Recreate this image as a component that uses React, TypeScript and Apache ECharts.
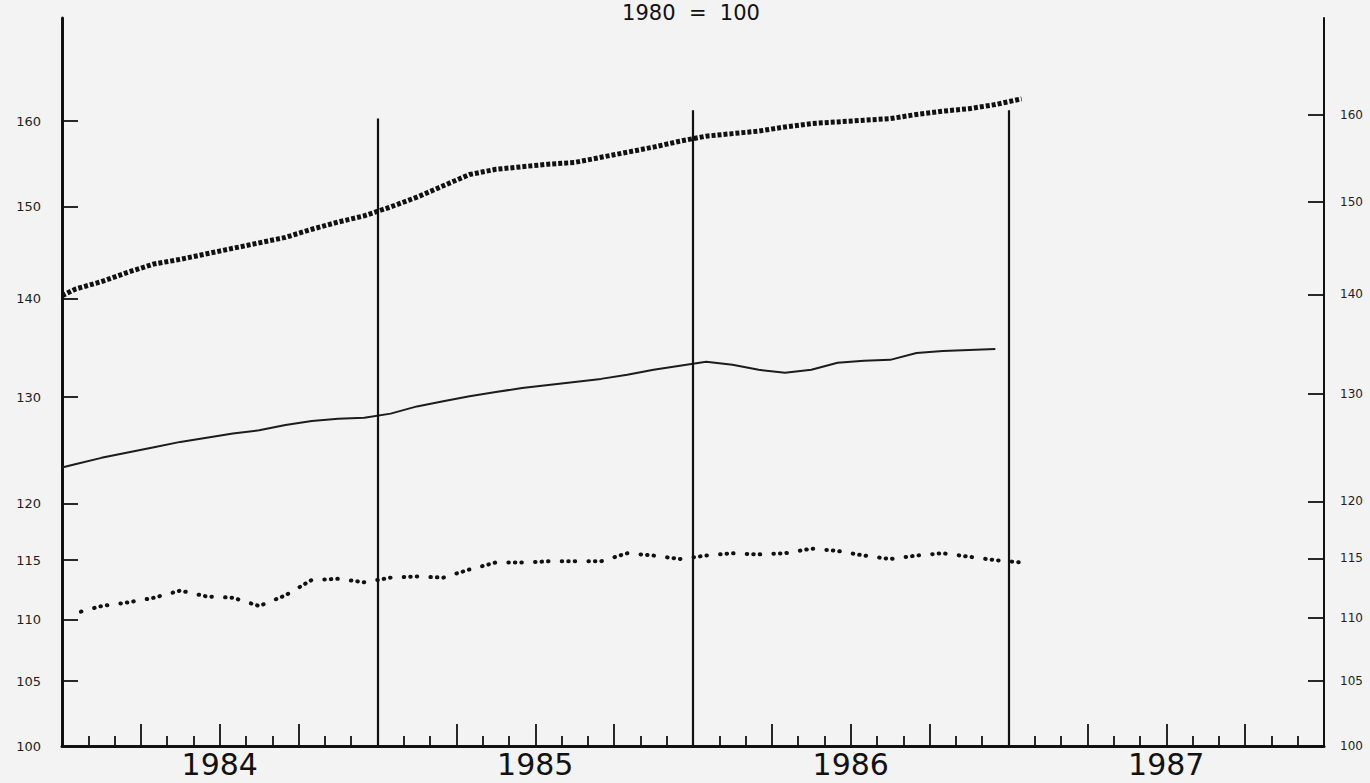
import React, { useEffect, useRef } from 'react';
import * as echarts from 'echarts';

// years on the x axis (x is counted in months from Jan 1984)
const yearLabels = ['1984', '1985', '1986', '1987'];
const yearMiddles = [6, 18, 30, 42];
const yearBoundaries = [12, 24, 36];
const boundaryTops = [160.3, 161.3, 161.3];
const quarterTicks = [3, 6, 9, 15, 18, 21, 27, 30, 33, 39, 42, 45];

// index values, 1980 = 100 (log scale)
const yTicks = [100, 105, 110, 115, 120, 130, 140, 150, 160];

// upper thick dotted line, monthly Jan 1984 - Jan 1987
const upperStart = 140.3;
const upper = [
  141.0, 141.8, 142.8, 143.7, 144.2, 144.8, 145.4, 146.0, 146.6, 147.5, 148.3, 149.0,
  150.0, 151.1, 152.4, 153.7, 154.3, 154.6, 154.9, 155.1, 155.7, 156.3, 156.9, 157.6,
  158.2, 158.5, 158.8, 159.3, 159.7, 159.9, 160.1, 160.3, 160.8, 161.2, 161.5, 162.0,
  162.7,
];

// middle solid line, monthly Jan 1984 - Dec 1986
const middleStart = 123.3;
const middle = [
  123.6, 124.2, 124.7, 125.2, 125.7, 126.1, 126.5, 126.8, 127.3, 127.7, 127.9, 128.0,
  128.4, 129.1, 129.6, 130.1, 130.5, 130.9, 131.2, 131.5, 131.8, 132.2, 132.7, 133.1,
  133.5, 133.2, 132.7, 132.4, 132.7, 133.4, 133.6, 133.7, 134.4, 134.6, 134.7, 134.8,
];

// lower dotted line, monthly Jan 1984 - Jan 1987
const lower = [
  110.5, 111.1, 111.4, 111.8, 112.4, 111.9, 111.8, 111.1, 112.0, 113.3, 113.4, 113.1,
  113.5, 113.6, 113.5, 114.2, 114.8, 114.8, 114.9, 114.9, 114.9, 115.6, 115.4, 115.1,
  115.4, 115.6, 115.5, 115.6, 116.0, 115.8, 115.4, 115.1, 115.4, 115.6, 115.3, 115.0,
  114.8,
];

const font = 'DejaVu Sans';
const ink = '#111';

const App = () => {
  const chartRef = useRef<HTMLDivElement>(null);

  useEffect(() => {
    const chart = echarts.init(chartRef.current, null, { renderer: 'svg' });

    // each monthly value sits in the middle of its month
    const onMonths = (vals: number[]) => vals.map((v, i) => [i + 0.5, v]);

    const yAxisBase = {
      type: 'log',
      logBase: 10,
      min: 100,
      splitLine: { show: false },
      minorTick: { show: false },
    };

    const options = {
      animation: false,
      backgroundColor: '#f3f3f3',
      textStyle: { fontFamily: font },
      grid: { left: 62, right: 46, top: 18, bottom: 37 },
      graphic: [
        {
          type: 'text',
          x: 691,
          y: 2,
          style: {
            text: '1980  =  100',
            fontSize: 21,
            fontFamily: font,
            fill: ink,
            textAlign: 'center',
            textVerticalAlign: 'top',
          },
        },
      ],
      xAxis: {
        type: 'value',
        min: 0,
        max: 48,
        interval: 3,
        splitLine: { show: false },
        axisLine: { lineStyle: { color: ink, width: 3 } },
        axisTick: {
          inside: true,
          length: 22,
          customValues: quarterTicks,
          lineStyle: { color: ink, width: 1.8 },
        },
        minorTick: {
          show: true,
          splitNumber: 3,
          length: 10,
          lineStyle: { color: ink, width: 1.8 },
        },
        axisLabel: {
          customValues: yearMiddles,
          formatter: (v: number) => yearLabels[Math.floor(v / 12)],
          fontSize: 30,
          lineHeight: 30,
          fontFamily: font,
          color: ink,
          margin: 3,
        },
      },
      yAxis: [
        {
          ...yAxisBase,
          max: 172.9,
          position: 'left',
          axisLine: { show: true, lineStyle: { color: ink, width: 3 } },
          axisTick: {
            show: true,
            inside: true,
            length: 16,
            customValues: yTicks,
            lineStyle: { color: ink, width: 1.8 },
          },
          axisLabel: {
            customValues: yTicks,
            fontSize: 13,
            fontFamily: font,
            color: '#1e1e1e',
            margin: 21,
          },
        },
        {
          ...yAxisBase,
          max: 172,
          position: 'right',
          axisLine: { show: true, lineStyle: { color: ink, width: 2 } },
          axisTick: {
            show: true,
            inside: true,
            length: 16,
            customValues: yTicks,
            lineStyle: { color: ink, width: 1.8 },
          },
          axisLabel: {
            customValues: yTicks,
            fontSize: 12,
            fontFamily: font,
            color: '#1e1e1e',
            margin: 16,
          },
        },
      ],
      series: [
        {
          name: 'upper',
          type: 'line',
          yAxisIndex: 0,
          symbol: 'none',
          data: [[0, upperStart], ...onMonths(upper)],
          lineStyle: { color: ink, width: 5, type: [4, 2] },
          markLine: {
            silent: true,
            symbol: ['none', 'none'],
            label: { show: false },
            lineStyle: { color: ink, width: 2.2, type: 'solid' },
            data: yearBoundaries.map((b, i) => [
              { coord: [b, 100] },
              { coord: [b, boundaryTops[i]] },
            ]),
          },
        },
        {
          name: 'middle',
          type: 'line',
          yAxisIndex: 0,
          symbol: 'none',
          data: [[0, middleStart], ...onMonths(middle)],
          lineStyle: { color: '#1c1c1c', width: 2 },
        },
        {
          name: 'lower',
          type: 'line',
          yAxisIndex: 0,
          symbol: 'none',
          data: onMonths(lower),
          lineStyle: {
            color: ink,
            width: 4,
            cap: 'round',
            type: [0.5, 6, 0.5, 6, 0.5, 13.2],
            dashOffset: 6.5,
          },
        },
      ],
    };

    chart.setOption(options);

    const onResize = () => chart.resize();
    window.addEventListener('resize', onResize);

    return () => {
      window.removeEventListener('resize', onResize);
      chart.dispose();
    };
  }, []);

  return (
    <div
      ref={chartRef}
      style={{ position: 'fixed', left: 0, top: 0, width: '100vw', height: '100vh' }}
    ></div>
  );
};

export default App;
